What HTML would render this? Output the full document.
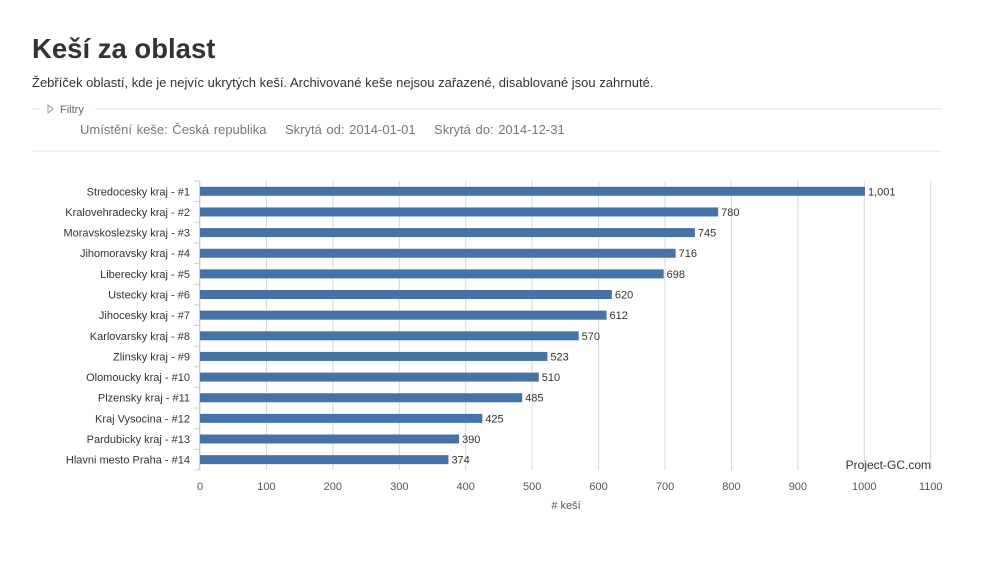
<!DOCTYPE html>
<html><head><meta charset="utf-8"><style>
body{margin:0;width:1001px;height:562px;background:#fff;font-family:"Liberation Sans",sans-serif;overflow:hidden;position:relative}
h1{position:absolute;left:32px;top:33px;margin:0;font-size:27.5px;font-weight:bold;color:#333}
.d{position:absolute;left:32px;top:75px;font-size:13px;color:#333}
.f{position:absolute;left:80px;top:122px;font-size:13px;color:#777;word-spacing:1px}
</style></head><body>
<h1>Keší za oblast</h1>
<div class="d">Žebříček oblastí, kde je nejvíc ukrytých keší. Archivované keše nejsou zařazené, disablované jsou zahrnuté.</div>
<svg style="position:absolute;left:0;top:0" width="1001" height="562" font-family="Liberation Sans, sans-serif">
<line x1="32" y1="109" x2="40" y2="109" stroke="#e5e5e5"/>
<line x1="95" y1="109" x2="942" y2="109" stroke="#e5e5e5"/>
<polygon points="48,105 48,113 53,109" fill="none" stroke="#999"/>
<text x="60" y="113" font-size="11" fill="#666">Filtry</text>
<line x1="32" y1="151" x2="942" y2="151" stroke="#e5e5e5"/>
<g id="g"></g>
</svg>
<div class="f">Umístění keše: Česká republika &nbsp;&nbsp; Skrytá od: 2014-01-01 &nbsp;&nbsp; Skrytá do: 2014-12-31</div>
<script>
(function(){
const d=[["Stredocesky kraj - #1",1001],["Kralovehradecky kraj - #2",780],["Moravskoslezsky kraj - #3",745],["Jihomoravsky kraj - #4",716],["Liberecky kraj - #5",698],["Ustecky kraj - #6",620],["Jihocesky kraj - #7",612],["Karlovarsky kraj - #8",570],["Zlinsky kraj - #9",523],["Olomoucky kraj - #10",510],["Plzensky kraj - #11",485],["Kraj Vysocina - #12",425],["Pardubicky kraj - #13",390],["Hlavni mesto Praha - #14",374]];
let s="";const x0=200,k=0.6643,t0=181,h=20.64;
for(let v=0;v<=1100;v+=100){const x=x0+v*k;s+=`<line x1="${x}" y1="${t0}" x2="${x}" y2="470" stroke="#d8d8d8"/><text x="${x}" y="490" font-size="11" fill="#555" text-anchor="middle">${v}</text>`;}
s+=`<line x1="199.5" y1="${t0}" x2="199.5" y2="470" stroke="#c0d0e0"/>`;
d.forEach((r,i)=>{const c=t0+h*i+h/2;s+=`<line x1="194" y1="${t0+h*i}" x2="199" y2="${t0+h*i}" stroke="#c0d0e0"/><rect x="200" y="${c-4.5}" width="${r[1]*k}" height="9" fill="#4572a7"/><text x="190" y="${c+4}" font-size="11" fill="#333" text-anchor="end">${r[0]}</text><text x="${203+r[1]*k}" y="${c+4}" font-size="11" fill="#333">${r[1]>=1000?"1,001":r[1]}</text>`;});
s+=`<line x1="194" y1="470" x2="199" y2="470" stroke="#c0d0e0"/><text x="566" y="509" font-size="11" fill="#555" text-anchor="middle"># keší</text><text x="931" y="469" font-size="12" fill="#333" text-anchor="end">Project-GC.com</text>`;
document.getElementById("g").innerHTML=s;
})();
</script>
</body></html>
